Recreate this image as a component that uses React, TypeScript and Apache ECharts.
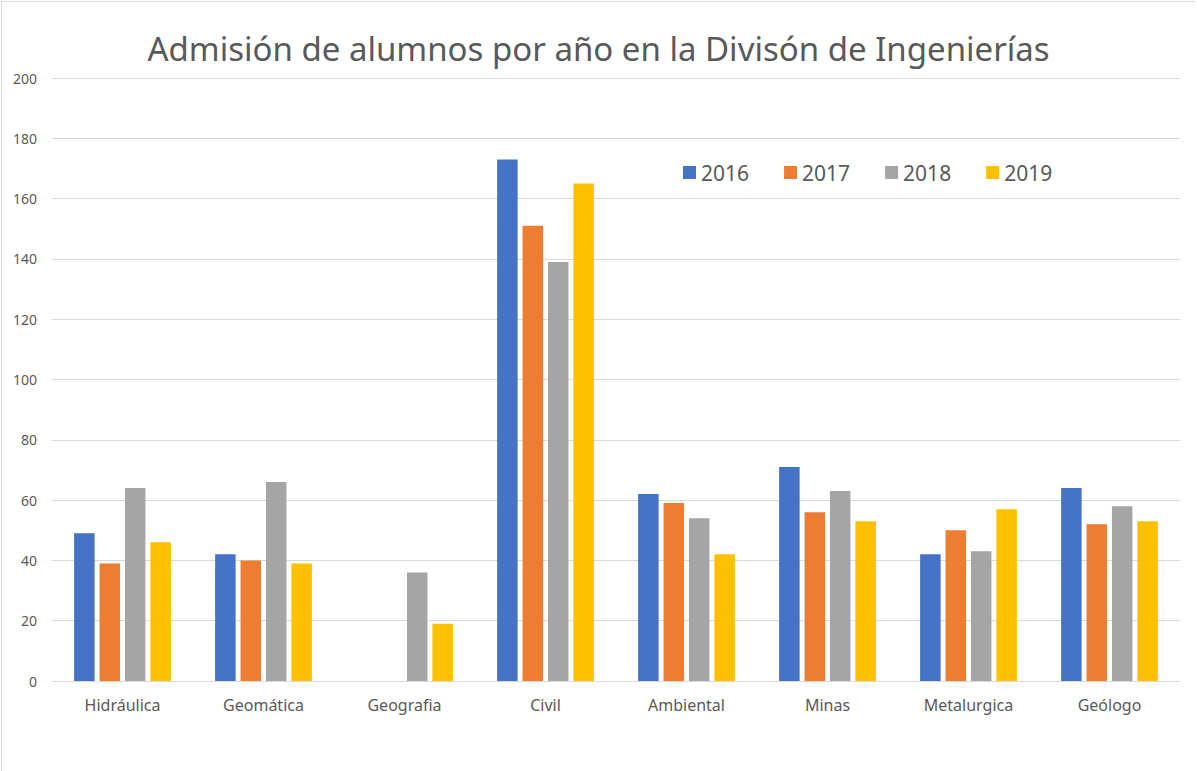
import React, { useEffect, useRef } from "react";
import * as echarts from "echarts";

const categories = ["Hidráulica", "Geomática", "Geografia", "Civil", "Ambiental", "Minas", "Metalurgica", "Geólogo"];
const years = ["2016", "2017", "2018", "2019"];
const values2016 = [49, 42, 0, 173, 62, 71, 42, 64];
const values2017 = [39, 40, 0, 151, 59, 56, 50, 52];
const values2018 = [64, 66, 36, 139, 54, 63, 43, 58];
const values2019 = [46, 39, 19, 165, 42, 53, 57, 53];
const colors = ["#4472C4", "#ED7D31", "#A5A5A5", "#FFC000"];
const title = "Admisión de alumnos por año en la Divisón de Ingenierías";

export default function App() {
  const ref = useRef<HTMLDivElement>(null);
  useEffect(() => {
    if (!ref.current) return;
    const chart = echarts.init(ref.current, null, { renderer: "svg" });
    const seriesData = [values2016, values2017, values2018, values2019];
    const font = "'Noto Sans', 'Open Sans', sans-serif";
    chart.setOption({
      animation: false,
      backgroundColor: "#ffffff",
      textStyle: { fontFamily: font },
      title: {
        text: title,
        left: "center",
        top: 25,
        textStyle: { fontFamily: font, fontSize: 33, fontWeight: "normal", color: "#595959" },
      },
      legend: {
        left: 676,
        top: 155,
        itemWidth: 13,
        itemHeight: 13,
        itemGap: 35,
        icon: "rect",
        textStyle: { fontFamily: font, fontSize: 21, color: "#595959" },
        data: years,
      },
      grid: { left: 50, right: 15, top: 76, bottom: 90, containLabel: false },
      xAxis: {
        type: "category",
        data: categories,
        axisLine: { show: true, lineStyle: { color: "#d9d9d9", width: 1 } },
        axisTick: { show: false },
        axisLabel: { fontFamily: font, fontSize: 16, color: "#595959", margin: 16 },
      },
      yAxis: {
        type: "value",
        min: 0,
        max: 200,
        interval: 20,
        axisLine: { show: false },
        axisTick: { show: false },
        splitLine: { lineStyle: { color: "#d9d9d9", width: 1 } },
        axisLabel: { fontFamily: font, fontSize: 14, color: "#595959", margin: 15 },
      },
      series: years.map((y, i) => ({
        name: y,
        type: "bar",
        data: seriesData[i],
        barWidth: 20.5,
        barGap: "24%",
        itemStyle: { color: colors[i] },
      })),
    });
    return () => chart.dispose();
  }, []);
  return (
    <div style={{ position: "fixed", left: 0, top: 0, width: 1197, height: 771, background: "#fff" }}>
      <div
        style={{
          position: "absolute",
          left: 1,
          top: 1,
          width: 1194,
          height: 772,
          border: "1px solid #d9d9d9",
          boxSizing: "border-box",
        }}
      />
      <div ref={ref} style={{ position: "absolute", left: 2, top: 2, width: 1193, height: 769 }} />
    </div>
  );
}
